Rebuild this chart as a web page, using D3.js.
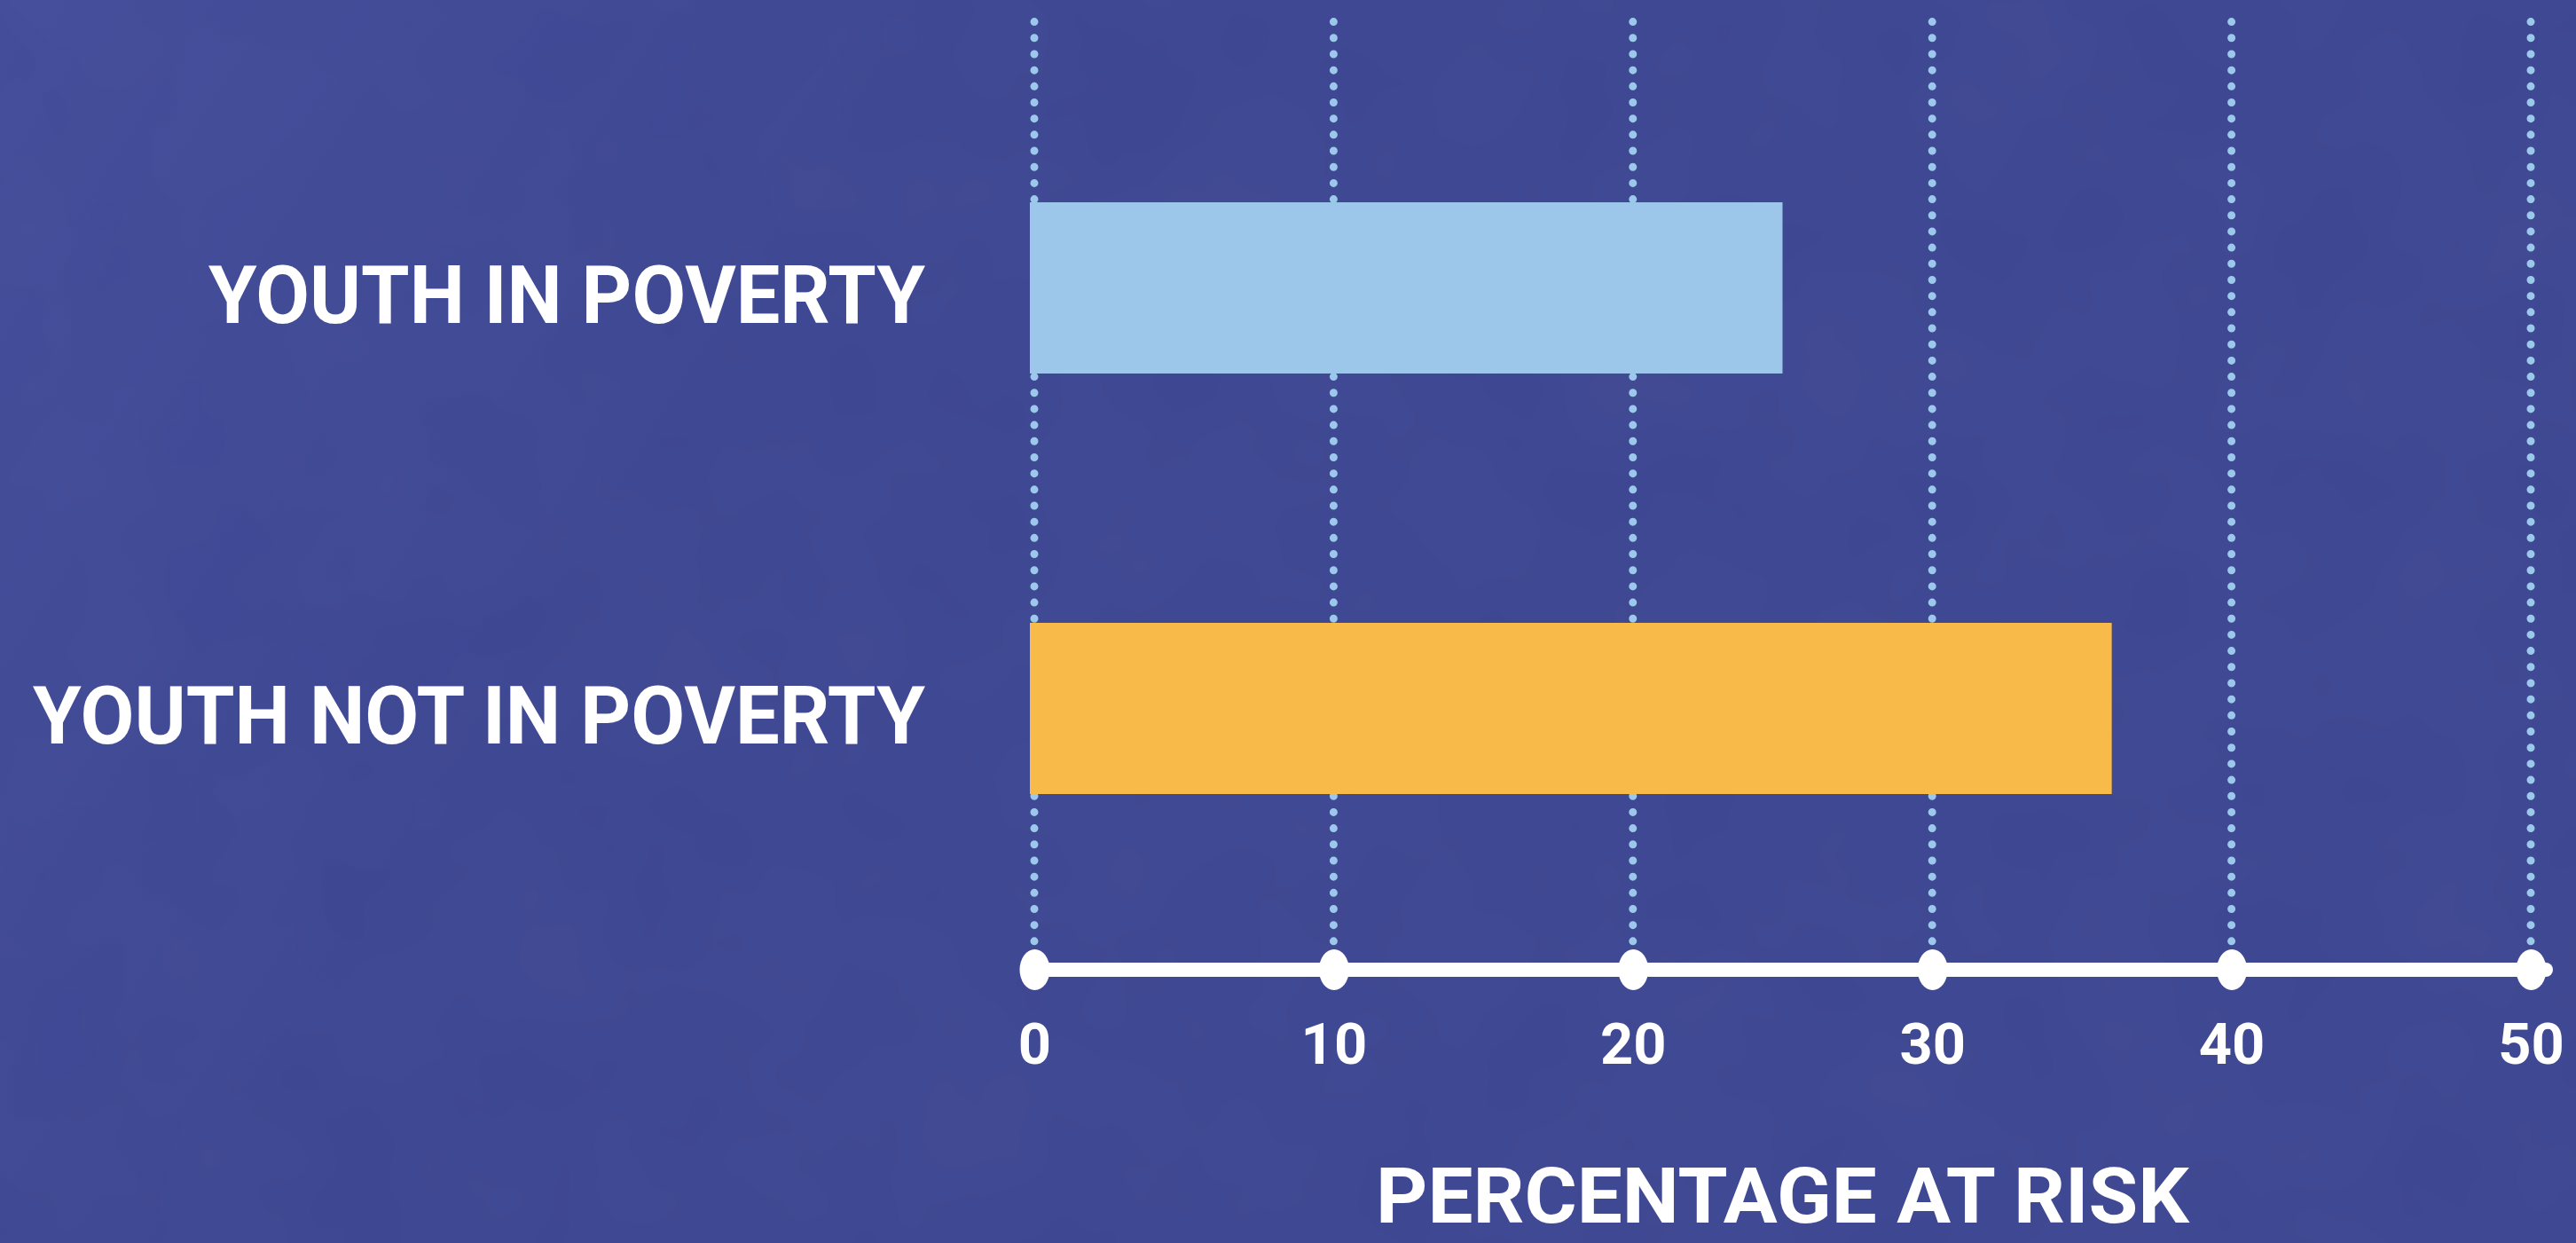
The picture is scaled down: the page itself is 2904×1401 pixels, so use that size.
<!DOCTYPE html>
<html>
<head>
<meta charset="utf-8">
<script src="https://cdn.jsdelivr.net/npm/d3@7"></script>
<style>
  html, body { margin: 0; padding: 0; background: #3D4691; }
  svg { display: block; }
</style>
</head>
<body>
<svg id="chart" width="2904" height="1401"></svg>
<script>
// Share of youth at risk, by poverty status
const categories = ["YOUTH IN POVERTY", "YOUTH NOT IN POVERTY"];
const values = [25, 36];
const tickValues = [0, 10, 20, 30, 40, 50];
const axisTitle = "PERCENTAGE AT RISK";

const W = 2904, H = 1401;
const barColors = ["#9CC6EA", "#F8BA48"];
const gridColor = "#9CC8EC";
const white = "#FFFFFF";
const fontFamily = "Roboto, 'Noto Sans', sans-serif";

const svg = d3.select("#chart");

// background with a soft, mottled tone
const defs = svg.append("defs");
const bg = defs.append("linearGradient").attr("id", "bg").attr("x1", 0).attr("y1", 0).attr("x2", 1).attr("y2", 0.3);
bg.append("stop").attr("offset", 0).attr("stop-color", "#424C99");
bg.append("stop").attr("offset", 0.35).attr("stop-color", "#3D4691");
bg.append("stop").attr("offset", 1).attr("stop-color", "#3D4691");
const tex = defs.append("filter").attr("id", "tex").attr("x", 0).attr("y", 0).attr("width", 1).attr("height", 1);
tex.append("feTurbulence").attr("type", "fractalNoise").attr("baseFrequency", 0.006).attr("numOctaves", 3).attr("seed", 7);
tex.append("feColorMatrix").attr("type", "matrix")
  .attr("values", "0 0 0 0 1  0 0 0 0 1  0 0 0 0 1  0 0 0 0.025 0");
svg.append("rect").attr("width", W).attr("height", H).attr("fill", "url(#bg)");
svg.append("rect").attr("width", W).attr("height", H).attr("filter", "url(#tex)");

// scales
const x = d3.scaleLinear().domain([0, 50]).range([1166, 2853]);
const y = d3.scalePoint().domain(categories).range([324.5, 798.5]);
const barH = 193;
const axisY = 1093;

// dotted vertical gridlines
svg.append("g").selectAll("line").data(tickValues).join("line")
  .attr("x1", d => x(d)).attr("x2", d => x(d))
  .attr("y1", 24.6).attr("y2", 1062)
  .attr("stroke", gridColor).attr("stroke-width", 9)
  .attr("stroke-linecap", "round")
  .attr("stroke-dasharray", "0 18.18");

// bars
svg.append("g").selectAll("rect").data(categories).join("rect")
  .attr("x", x(0) - 5)
  .attr("y", d => y(d) - barH / 2)
  .attr("width", (d, i) => x(values[i]) - x(0) + 5)
  .attr("height", barH)
  .attr("fill", (d, i) => barColors[i]);

// category labels
const labelWidths = [808, 1006];
svg.append("g").selectAll("text").data(categories).join("text")
  .attr("x", 1043)
  .attr("y", d => y(d) + 8)
  .attr("text-anchor", "end")
  .attr("dominant-baseline", "central")
  .attr("font-family", fontFamily)
  .attr("font-weight", 700)
  .attr("font-size", 91)
  .attr("fill", white)
  .attr("textLength", (d, i) => labelWidths[i])
  .attr("lengthAdjust", "spacingAndGlyphs")
  .text(d => d);

// x axis: thick white rule with oval tick markers
const axis = d3.axisBottom(x).tickValues(tickValues).tickSize(0).tickPadding(60).tickFormat(d3.format("d"));
const gAxis = svg.append("g").attr("transform", `translate(0,${axisY})`).call(axis);
gAxis.select(".domain").remove();
gAxis.selectAll(".tick text")
  .attr("font-family", fontFamily)
  .attr("font-weight", 700)
  .attr("font-size", 65)
  .attr("fill", white)
  .attr("dy", "0.71em");
gAxis.insert("line", ":first-child")
  .attr("x1", x(0)).attr("x2", 2870)
  .attr("y1", 0).attr("y2", 0)
  .attr("stroke", white).attr("stroke-width", 16)
  .attr("stroke-linecap", "round");
gAxis.selectAll(".tick").append("ellipse")
  .attr("cx", 0).attr("cy", 0).attr("rx", 17).attr("ry", 23)
  .attr("fill", white);

// axis title
svg.append("text")
  .attr("x", (x(0) + x(50)) / 2)
  .attr("y", 1378)
  .attr("text-anchor", "middle")
  .attr("font-family", fontFamily)
  .attr("font-weight", 700)
  .attr("font-size", 87)
  .attr("fill", white)
  .attr("textLength", 917)
  .attr("lengthAdjust", "spacingAndGlyphs")
  .text(axisTitle);
</script>
</body>
</html>
